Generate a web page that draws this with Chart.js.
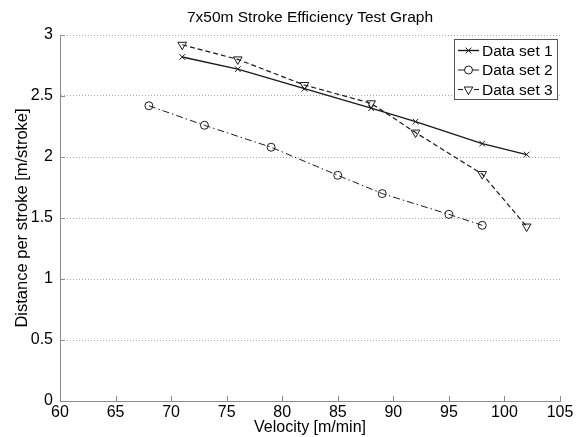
<!DOCTYPE html>
<html>
<head>
<meta charset="utf-8">
<script src="https://cdn.jsdelivr.net/npm/chart.js@4/dist/chart.umd.min.js"></script>
<style>
  body { margin: 0; background: #fff; }
  canvas { display: block; }
</style>
</head>
<body>
<canvas id="chart" width="582" height="437"></canvas>
<script>
// Data
const velocity1 = [71, 76, 82, 88, 92, 98, 102];
const dps1 = [2.82, 2.72, 2.56, 2.40, 2.29, 2.11, 2.02];

const velocity2 = [68, 73, 79, 85, 89, 95, 98];
const dps2 = [2.42, 2.26, 2.08, 1.85, 1.70, 1.53, 1.44];

const velocity3 = [71, 76, 82, 88, 92, 98, 102];
const dps3 = [2.92, 2.80, 2.59, 2.44, 2.20, 1.86, 1.43];

const seriesNames = ['Data set 1', 'Data set 2', 'Data set 3'];

const FONT = '"Liberation Sans", Arial, Helvetica, sans-serif';
const INK = '#1a1a1a';
const AXIS = '#8c8c8c';

function toPoints(xs, ys) {
    return xs.map((x, i) => ({ x: x, y: ys[i] }));
}

// small inward tick marks like matlab
const innerTicks = {
    id: 'innerTicks',
    afterDatasetsDraw(chart) {
        const { ctx, chartArea, scales } = chart;
        ctx.save();
        ctx.strokeStyle = AXIS;
        ctx.lineWidth = 1;
        ctx.beginPath();
        scales.x.ticks.forEach(t => {
            const px = Math.round(scales.x.getPixelForValue(t.value)) + 0.5;
            ctx.moveTo(px, chartArea.bottom);
            ctx.lineTo(px, chartArea.bottom - 5);
        });
        scales.y.ticks.forEach(t => {
            const py = Math.round(scales.y.getPixelForValue(t.value)) + 0.5;
            ctx.moveTo(chartArea.left, py);
            ctx.lineTo(chartArea.left + 5, py);
        });
        ctx.stroke();
        ctx.restore();
    }
};

// legend box with line + marker samples
const boxLegend = {
    id: 'boxLegend',
    afterDraw(chart) {
        const { ctx, chartArea } = chart;
        const w = 103, h = 60;
        const x = chartArea.right - 3 - w;
        const y = chartArea.top + 4;
        ctx.save();
        ctx.fillStyle = '#fff';
        ctx.fillRect(x, y, w, h);
        ctx.strokeStyle = '#555';
        ctx.lineWidth = 1;
        ctx.strokeRect(x + 0.5, y + 0.5, w, h);
        ctx.font = '15.5px ' + FONT;
        ctx.textBaseline = 'middle';
        chart.data.datasets.forEach((ds, i) => {
            const cy = y + 11.5 + i * 19.5;
            ctx.strokeStyle = INK;
            ctx.lineWidth = ds.borderWidth;
            ctx.setLineDash(ds.borderDash || []);
            ctx.beginPath();
            ctx.moveTo(x + 4, cy);
            ctx.lineTo(x + 25, cy);
            ctx.stroke();
            ctx.setLineDash([]);
            // open markers, same as the plot
            ctx.fillStyle = '#fff';
            ctx.lineWidth = 1;
            Chart.helpers.drawPoint(ctx, {
                pointStyle: ds.pointStyle,
                radius: ds.pointRadius,
                rotation: ds.pointRotation || 0,
                borderWidth: 1
            }, x + 14.5, cy);
            ctx.fillStyle = '#000';
            ctx.fillText(seriesNames[i], x + 28, cy + 1);
        });
        ctx.restore();
    }
};

const ctx = document.getElementById('chart').getContext('2d');
new Chart(ctx, {
    type: 'scatter',
    data: {
        datasets: [{
            label: seriesNames[0],
            data: toPoints(velocity1, dps1),
            showLine: true,
            borderColor: INK,
            borderWidth: 1.4,
            pointStyle: 'crossRot',
            pointRadius: 4,
            pointBorderColor: INK,
            pointBorderWidth: 1,
            pointBackgroundColor: 'rgba(0,0,0,0)'
        }, {
            label: seriesNames[1],
            data: toPoints(velocity2, dps2),
            showLine: true,
            borderColor: INK,
            borderWidth: 1,
            borderDash: [7, 3, 1.5, 3],
            pointStyle: 'circle',
            pointRadius: 4,
            pointBorderColor: INK,
            pointBorderWidth: 1,
            pointBackgroundColor: 'rgba(0,0,0,0)'
        }, {
            label: seriesNames[2],
            data: toPoints(velocity3, dps3),
            showLine: true,
            borderColor: INK,
            borderWidth: 1.2,
            borderDash: [5, 3],
            pointStyle: 'triangle',
            pointRotation: 180,
            pointRadius: 5,
            pointBorderColor: INK,
            pointBorderWidth: 1,
            pointBackgroundColor: 'rgba(0,0,0,0)'
        }]
    },
    options: {
        responsive: false,
        animation: false,
        layout: { padding: { left: 0, right: 22, top: 0, bottom: 0 } },
        plugins: {
            legend: { display: false },
            tooltip: { enabled: false },
            title: {
                display: true,
                fullSize: false,
                text: '7x50m Stroke Efficiency Test Graph',
                color: '#000',
                font: { family: FONT, size: 15.5, weight: 'normal' },
                padding: { top: 8, bottom: 8.4 }
            }
        },
        scales: {
            x: {
                type: 'linear',
                min: 60,
                max: 105,
                ticks: {
                    stepSize: 5,
                    color: '#000',
                    padding: 2,
                    maxRotation: 0,
                    font: { family: FONT, size: 16 }
                },
                grid: { display: false, drawTicks: false },
                border: { display: true, color: AXIS, width: 1 },
                title: {
                    display: true,
                    text: 'Velocity [m/min]',
                    color: '#000',
                    font: { family: FONT, size: 16 },
                    padding: { top: 0, bottom: 0 }
                },
                afterFit: (scale) => { scale.height = 36; }
            },
            y: {
                min: 0,
                max: 3,
                ticks: {
                    stepSize: 0.5,
                    color: '#000',
                    padding: 7,
                    font: { family: FONT, size: 16 },
                    callback: (v) => String(Math.round(v * 10) / 10)
                },
                grid: { color: '#a8a8a8', lineWidth: 1, drawTicks: false },
                border: { display: true, color: AXIS, width: 1, dash: [1, 2] },
                title: {
                    display: true,
                    text: 'Distance per stroke [m/stroke]',
                    color: '#000',
                    font: { family: FONT, size: 16.5 },
                    padding: { top: 13, bottom: 0 }
                },
                afterFit: (scale) => { scale.width = 60; }
            }
        }
    },
    plugins: [innerTicks, boxLegend]
});
</script>
</body>
</html>
